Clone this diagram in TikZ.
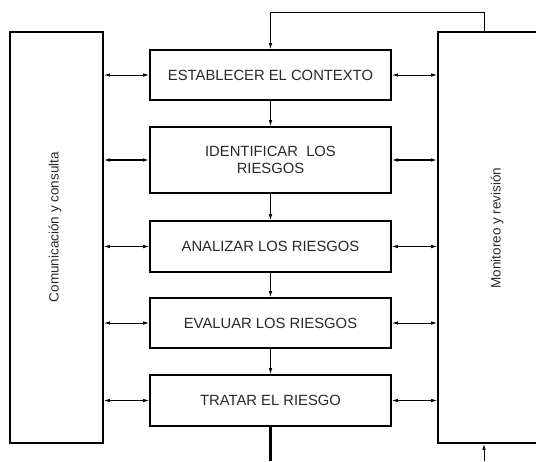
\documentclass[tikz,border=0pt]{standalone}
\usepackage{fontspec}
\setmainfont{Liberation Sans}
\usepackage{tikz}
\usetikzlibrary{arrows.meta}
\definecolor{txtgray}{RGB}{40,40,40}
\tikzstyle{stepbox} = [draw=black, line width=1.8pt, rectangle, minimum width=241pt, minimum height=50pt, inner sep=0pt, align=center, text=txtgray, font=\fontsize{14.8}{17}\selectfont]
\tikzstyle{sidebox} = [draw=black, line width=1.8pt, rectangle, minimum width=93pt, minimum height=411pt, inner sep=0pt]
\tikzstyle{sidetext} = [text=txtgray, rotate=90, font=\fontsize{13.5}{15}\selectfont]
\tikzstyle{link} = [line width=0.9pt, {Latex[length=6pt,width=3.6pt]}-{Latex[length=6pt,width=3.6pt]}]
\tikzstyle{down} = [line width=0.9pt, -{Latex[length=6pt,width=3.6pt]}]

\begin{document}
\begin{tikzpicture}[x=1pt, y=-1pt]
        \useasboundingbox (0,0) rectangle (536,461);
        % side boxes
        \node [sidebox] (com) at (56.5,237.5) {};
        \node [sidebox, minimum width=110pt] (mon) at (493,237.5) {};
        \node [sidetext] at (55,227) {Comunicación y consulta};
        \node [sidetext] at (497,228) {Monitoreo y revisión};
        % process steps
        \node [stepbox] (ctx) at (270.5,75) {ESTABLECER EL CONTEXTO};
        \node [stepbox, minimum height=66pt] (ide) at (270.5,160) {IDENTIFICAR\ \ LOS\\RIESGOS};
        \node [stepbox, minimum height=51pt] (ana) at (270.5,246.5) {ANALIZAR LOS RIESGOS};
        \node [stepbox] (eva) at (270.5,323) {EVALUAR LOS RIESGOS};
        \node [stepbox, minimum height=51pt] (tra) at (270.5,400.5) {TRATAR EL RIESGO};
        \draw [down] (ctx) -- (ide);
        \draw [down] (ide) -- (ana);
        \draw [down] (ana) -- (eva);
        \draw [down] (eva) -- (tra);
        % links to the side boxes
        \foreach \s in {ctx,ana,eva,tra}{
            \draw [link] (\s.west -| com.east) -- (\s.west);
            \draw [link] (\s.east) -- (\s.east -| mon.west);
        }
        \draw [link, line width=1.3pt] (ide.west -| com.east) -- (ide.west);
        \draw [link, line width=1.3pt] (ide.east) -- (ide.east -| mon.west);
        % feedback and outputs
        \coordinate (fb) at (484,12);
        \coordinate (out) at (270.5,461);
        \coordinate (inp) at (484,461);
        \draw [down] (mon.north -| fb) -- (fb) -- (fb -| ctx.north) -- (ctx.north);
        \draw [line width=3.2pt] (tra.south) -- (out);
        \draw [down] (inp) -- (inp |- mon.south);
    \end{tikzpicture}
\end{document}
